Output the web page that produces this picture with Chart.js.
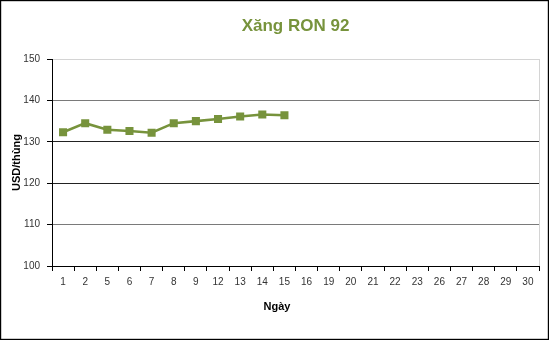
<!DOCTYPE html>
<html>
<head>
<meta charset="utf-8">
<script src="https://cdn.jsdelivr.net/npm/chart.js@4/dist/chart.umd.min.js"></script>
<style>
html,body{margin:0;padding:0;background:#fff;}
#wrap{width:550px;height:341px;position:relative;}
</style>
</head>
<body>
<div id="wrap"><canvas id="c" width="550" height="341"></canvas></div>
<script>
const days = ['1','2','5','6','7','8','9','12','13','14','15','16','19','20','21','22','23','26','27','28','29','30'];
const ron92 = [132.3,134.5,132.9,132.6,132.2,134.5,135.0,135.5,136.1,136.6,136.4,null,null,null,null,null,null,null,null,null,null,null];
const yTicks = [100,110,120,130,140,150];

const FONT = "'Liberation Sans', Arial, sans-serif";
const GREEN = '#77933C';

const framePlugin = {
  id: 'frame',
  beforeDatasetsDraw(chart) {
    const {ctx, chartArea: a} = chart;
    ctx.save();
    ctx.strokeStyle = '#d4d4d4';
    ctx.lineWidth = 1;
    ctx.beginPath();
    ctx.moveTo(Math.round(a.right) + 0.5, a.top);
    ctx.lineTo(Math.round(a.right) + 0.5, a.bottom);
    ctx.stroke();
    ctx.restore();
  },
  afterDraw(chart) {
    const ctx = chart.ctx;
    ctx.save();
    ctx.strokeStyle = '#000';
    ctx.lineWidth = 1.2;
    ctx.strokeRect(0.6, 0.6, 547.8, 338.8);
    ctx.restore();
  }
};

new Chart(document.getElementById('c'), {
  type: 'line',
  data: {
    labels: days,
    datasets: [{
      label: 'Xăng RON 92',
      data: ron92,
      borderColor: GREEN,
      backgroundColor: GREEN,
      borderWidth: 2.6,
      pointStyle: 'rect',
      pointRadius: 5.7,
      pointBorderWidth: 0,
      pointBackgroundColor: GREEN,
      tension: 0,
      spanGaps: false
    }]
  },
  options: {
    responsive: false,
    animation: false,
    layout: {padding: {left: 15, right: 11, top: 0, bottom: 0}},
    plugins: {
      legend: {display: false},
      tooltip: {enabled: false},
      title: {
        display: true,
        text: 'Xăng RON 92',
        fullSize: false,
        color: GREEN,
        font: {family: FONT, size: 17, weight: 'bold', lineHeight: 1.2},
        padding: {top: 16, bottom: 22.6}
      },
      subtitle: {
        display: true,
        position: 'bottom',
        fullSize: true,
        text: 'Ngày',
        color: '#000',
        font: {family: FONT, size: 11, weight: 'bold', lineHeight: 1.2},
        padding: {top: 0, bottom: 27.5}
      }
    },
    scales: {
      x: {
        offset: true,
        grid: {
          offset: true,
          drawOnChartArea: false,
          drawTicks: true,
          tickLength: 5,
          color: '#000',
          tickColor: '#000'
        },
        border: {display: true, color: '#000', width: 1},
        ticks: {
          color: '#333',
          font: {family: FONT, size: 10},
          padding: 5,
          maxRotation: 0,
          autoSkip: false
        },
        afterFit(s) { s.height = 34.3; }
      },
      y: {
        min: 100,
        max: 150,
        afterBuildTicks(s) { s.ticks = yTicks.map(v => ({value: v})); },
        grid: {
          drawTicks: true,
          tickLength: 5,
          color(ctx) {
            const v = ctx.tick && ctx.tick.value;
            if (v === 150) return '#d4d4d4';
            if (v === 140 || v === 110) return '#7a7a7a';
            return '#222';
          },
          tickColor: '#000',
          lineWidth: 1
        },
        border: {display: true, color: '#000', width: 1},
        ticks: {
          color: '#333',
          font: {family: FONT, size: 10},
          padding: 7
        },
        title: {
          display: true,
          text: 'USD/thùng',
          color: '#000',
          font: {family: FONT, size: 11, weight: 'bold', lineHeight: 1.2},
          padding: {top: -5, bottom: 0}
        },
        afterFit(s) { s.width = 37; }
      }
    }
  },
  plugins: [framePlugin]
});
</script>
</body>
</html>
